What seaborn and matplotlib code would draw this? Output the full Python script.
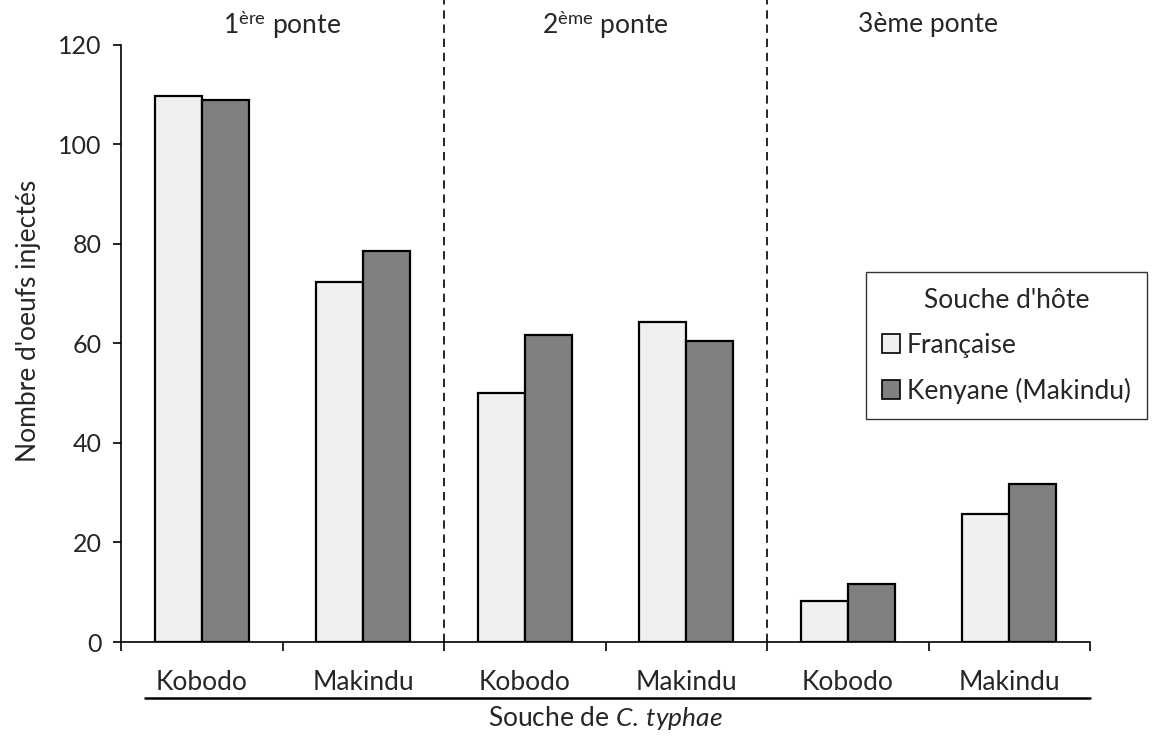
import numpy as np
import pandas as pd
import seaborn as sns
import matplotlib.pyplot as plt
from matplotlib.patches import Patch

# data
ponte = ['1', '1', '2', '2', '3', '3']
souche = ['Kobodo', 'Makindu', 'Kobodo', 'Makindu', 'Kobodo', 'Makindu']
francaise = [109.7, 72.4, 50.0, 64.3, 8.2, 25.7]
kenyane = [108.9, 78.6, 61.7, 60.5, 11.7, 31.8]
hotes = ["Française", "Kenyane (Makindu)"]
ponte_labels = ["1$^{\\mathrm{ère}}$ ponte", "2$^{\\mathrm{ème}}$ ponte", "3ème ponte"]

keys = [p + '-' + s for p, s in zip(ponte, souche)]
df = pd.DataFrame({
    'cat': keys * 2,
    'hote': [hotes[0]] * 6 + [hotes[1]] * 6,
    'n': francaise + kenyane,
})

sns.set_style('white')
plt.rcParams['font.family'] = ['Lato', 'DejaVu Sans']
plt.rcParams['mathtext.fontset'] = 'custom'
plt.rcParams['mathtext.rm'] = 'Lato'
plt.rcParams['mathtext.it'] = 'Lato:italic'

FS = 19
colors = ['#f0f0f0', '#808080']
fig = plt.figure(figsize=(11.57, 7.4), dpi=100)
ax = fig.add_axes([121 / 1157, 98 / 740, (1090 - 121) / 1157, 642 / 740])

sns.barplot(data=df, x='cat', y='n', hue='hote', order=keys, hue_order=hotes,
            palette=colors, width=0.58, edgecolor='black', linewidth=1.6,
            errorbar=None, legend=False, ax=ax)

ax.set_xlim(-0.5, 5.5)
ax.set_ylim(0, 129)
ax.set_yticks(np.arange(0, 121, 20))
ax.spines['top'].set_visible(False)
ax.spines['right'].set_visible(False)
ax.spines['left'].set_bounds(0, 120)
for s in ['left', 'bottom']:
    ax.spines[s].set_color('black')
    ax.spines[s].set_linewidth(1.2)

ax.set_xticks(range(6))
ax.set_xticklabels(souche, fontsize=FS)
ax.tick_params(axis='x', which='major', length=0, pad=20)
ax.set_xticks(np.arange(-0.5, 6, 1), minor=True)
ax.tick_params(axis='x', which='minor', bottom=True, length=6.5, width=1.2,
               direction='out', color='black')
ax.tick_params(axis='y', left=True, length=6, width=1.2, direction='out',
               color='black', labelsize=18, pad=8)

ax.set_xlabel('')
ax.set_ylabel("Nombre d'oeufs injectés", fontsize=FS, labelpad=12)
fig.text(605 / 1157, 1 - 718 / 740, "Souche de $\\mathit{C.\\,typhae}$",
         ha='center', va='center', fontsize=FS)

# separators between pontes
for xv in [1.5, 3.5]:
    ax.axvline(xv, color='black', linestyle=(0, (5, 3.5)), linewidth=1.2)

for i, lab in enumerate(ponte_labels):
    ax.text(0.5 + 2 * i, 124.0, lab, ha='center', va='center', fontsize=FS)

# underline below categories
ax.plot([-0.35, 5.5], [-0.088, -0.088], color='black', linewidth=1.8,
        transform=ax.get_xaxis_transform(), clip_on=False)

handles = [Patch(facecolor=c, edgecolor='black', linewidth=1.2) for c in colors]
leg = fig.legend(handles, hotes, title="Souche d'hôte", loc='upper left',
                 bbox_to_anchor=(866 / 1157, 1 - 272 / 740), fontsize=FS,
                 title_fontsize=FS, frameon=True, fancybox=False,
                 edgecolor='black', handlelength=0.7, handleheight=0.7,
                 handletextpad=0.25, labelspacing=0.75, borderpad=0.6,
                 borderaxespad=0)
leg.get_frame().set_linewidth(1.0)

fig.savefig('out.png', dpi=100)
